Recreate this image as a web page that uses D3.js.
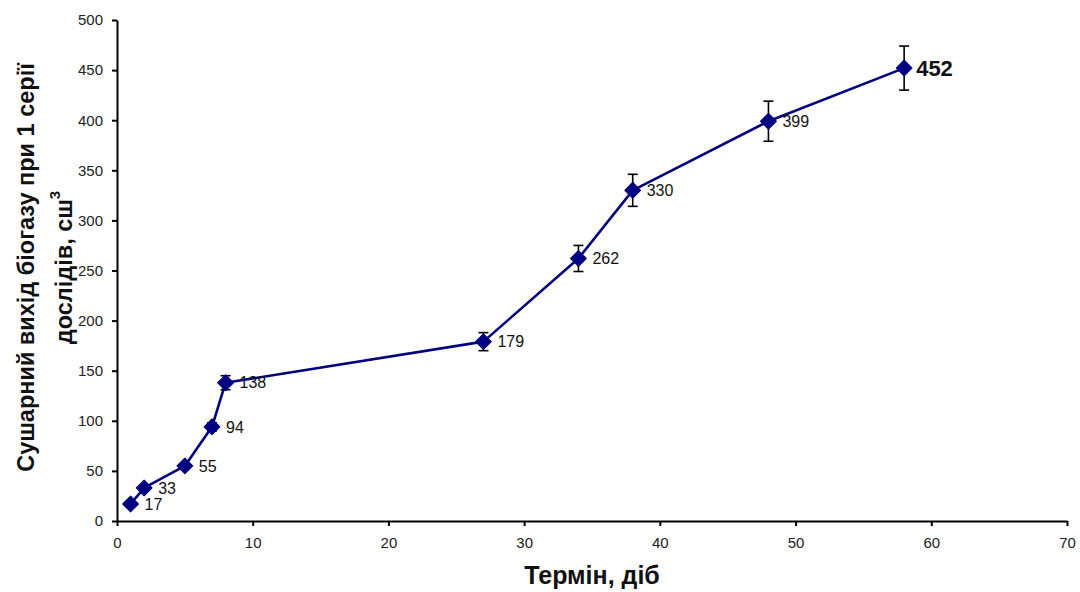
<!DOCTYPE html>
<html>
<head>
<meta charset="utf-8">
<script src="https://cdn.jsdelivr.net/npm/d3@7"></script>
<style>
  html, body { margin: 0; padding: 0; background: #fff; }
  svg { display: block; }
  text { font-family: "Liberation Sans", Arial, sans-serif; }
</style>
</head>
<body>
<svg id="chart" width="1080" height="592"></svg>
<script>
// Data
const days = [1, 2, 5, 7, 8, 27, 34, 38, 48, 58];
const biogas = [17, 33, 55, 94, 138, 179, 262, 330, 399, 452];
const errors = [1, 2, 3, 4, 7, 9, 13, 16, 20, 22];
const xTicks = [0, 10, 20, 30, 40, 50, 60, 70];
const yTicks = [0, 50, 100, 150, 200, 250, 300, 350, 400, 450, 500];
const yTitleLines = ["Сушарний вихід біогазу при 1 серії", "дослідів, сш"];
const xTitle = "Термін, діб";

const svg = d3.select("#chart");
const margin = { left: 117, right: 13, top: 20, bottom: 71 };
const W = 1080, H = 592;

const x = d3.scaleLinear().domain([0, 70]).range([margin.left, W - margin.right]);
const y = d3.scaleLinear().domain([0, 500]).range([H - margin.bottom, margin.top]);

const pts = days.map((d, i) => ({ x: d, y: biogas[i], e: errors[i], last: i === days.length - 1 }));

// Axes
const xAxis = svg.append("g")
  .attr("transform", `translate(0,${y(0)})`)
  .call(d3.axisBottom(x).tickValues(xTicks).tickSize(5).tickPadding(11).tickSizeOuter(0));
const yAxis = svg.append("g")
  .attr("transform", `translate(${x(0)},0)`)
  .call(d3.axisLeft(y).tickValues(yTicks).tickSize(5).tickPadding(9).tickSizeOuter(0));

[xAxis, yAxis].forEach(g => {
  g.select(".domain").attr("stroke", "#000").attr("stroke-width", 2);
  g.selectAll(".tick line").attr("stroke", "#000").attr("stroke-width", 2);
  g.selectAll(".tick text")
    .attr("font-family", "'Liberation Sans', Arial, sans-serif")
    .attr("font-size", 15).attr("fill", "#222");
});

// Line
const line = d3.line().x(d => x(d.x)).y(d => y(d.y));
svg.append("path")
  .datum(pts)
  .attr("d", line)
  .attr("fill", "none")
  .attr("stroke", "#000080")
  .attr("stroke-width", 2.6)
  .attr("stroke-linejoin", "round");

// Error bars
const eb = svg.append("g").attr("stroke", "#000").attr("stroke-width", 1.6);
pts.forEach(p => {
  const cx = x(p.x), y1 = y(p.y + p.e), y2 = y(p.y - p.e);
  eb.append("line").attr("x1", cx).attr("x2", cx).attr("y1", y1).attr("y2", y2);
  eb.append("line").attr("x1", cx - 5).attr("x2", cx + 5).attr("y1", y1).attr("y2", y1);
  eb.append("line").attr("x1", cx - 5).attr("x2", cx + 5).attr("y1", y2).attr("y2", y2);
});

// Markers (square diamond)
const diamond = {
  draw(ctx, size) {
    const r = Math.sqrt(size / 2);
    ctx.moveTo(0, -r); ctx.lineTo(r, 0); ctx.lineTo(0, r); ctx.lineTo(-r, 0); ctx.closePath();
  }
};
svg.append("g").selectAll("path")
  .data(pts).join("path")
  .attr("transform", d => `translate(${x(d.x)},${y(d.y)})`)
  .attr("d", d3.symbol().type(diamond).size(2 * 7.8 * 7.8))
  .attr("fill", "#000080")
  .attr("stroke", "#000080")
  .attr("stroke-width", 1.2)
  .attr("stroke-linejoin", "round");

// Data labels
svg.append("g").selectAll("text")
  .data(pts).join("text")
  .attr("x", d => x(d.x) + (d.last ? 12 : 14))
  .attr("y", d => y(d.y))
  .attr("dy", "0.36em")
  .attr("font-size", d => d.last ? 22 : 16)
  .attr("font-weight", d => d.last ? "bold" : "normal")
  .attr("fill", "#111")
  .text(d => d.y);

// X title
svg.append("text")
  .attr("x", (x(0) + x(70)) / 2)
  .attr("y", 584)
  .attr("text-anchor", "middle")
  .attr("font-size", 25)
  .attr("font-weight", "bold")
  .attr("fill", "#111")
  .text(xTitle);

// Y title (two lines, rotated)
const cy = (y(0) + y(500)) / 2 - 3;
const yt = svg.append("text")
  .attr("transform", `translate(0,${cy}) rotate(-90)`)
  .attr("text-anchor", "middle")
  .attr("font-size", 23.5)
  .attr("font-weight", "bold")
  .attr("fill", "#111");
yt.append("tspan").attr("x", 0).attr("y", 34).text(yTitleLines[0]);
const l2 = yt.append("tspan").attr("x", 0).attr("y", 72);
l2.append("tspan").text(yTitleLines[1]);
l2.append("tspan").attr("dy", -12).attr("font-size", 15).text("3");
</script>
</body>
</html>
